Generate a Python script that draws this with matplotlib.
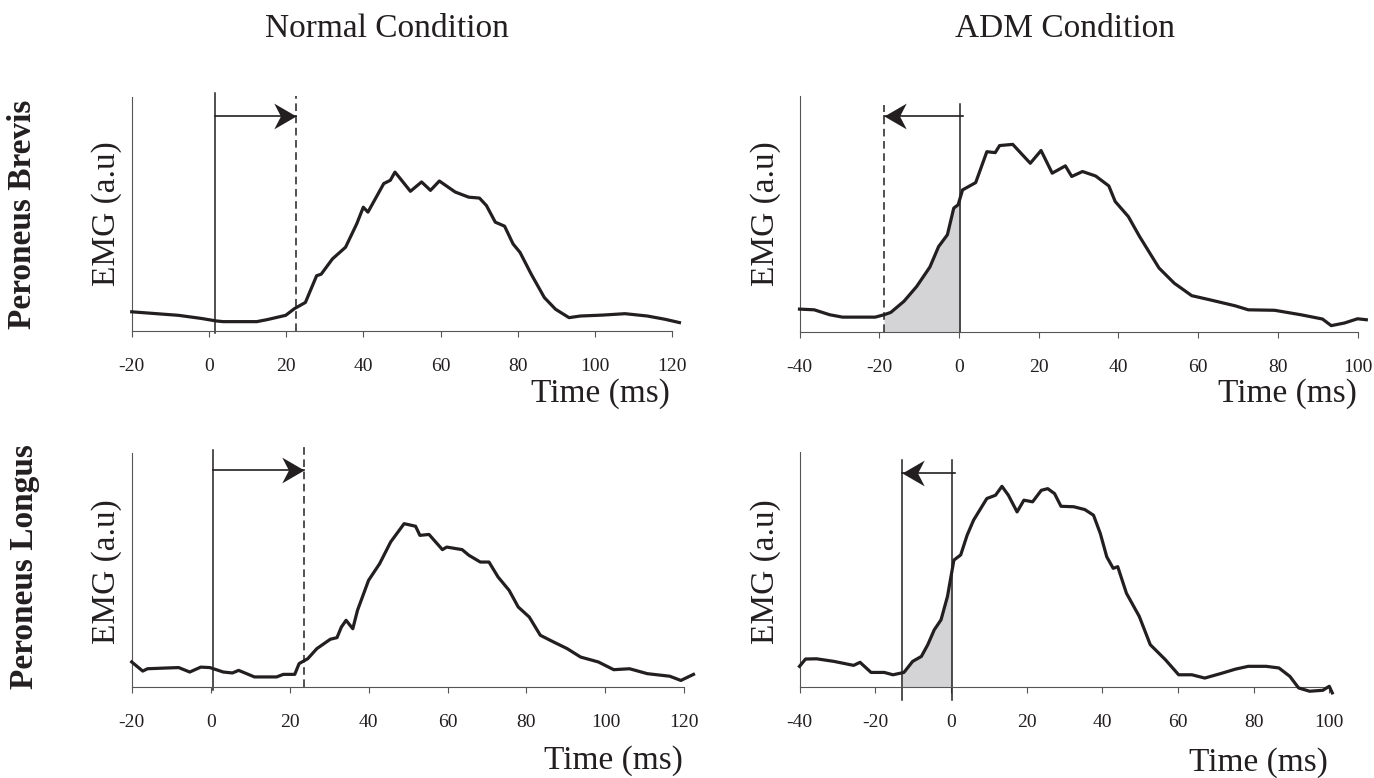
import numpy as np
import matplotlib.pyplot as plt
from matplotlib.path import Path

W, H = 1374, 778
plt.rcParams['font.family'] = ['Liberation Serif', 'DejaVu Serif']
ink = '#231f20'

col_titles = ['Normal Condition', 'ADM Condition']
row_titles = ['Peroneus Brevis', 'Peroneus Longus']
normal_ticks = [-20, 0, 20, 40, 60, 80, 100, 120]
adm_ticks = [-40, -20, 0, 20, 40, 60, 80, 100]

# Peroneus brevis, normal condition
pb_norm_t = [-20, -7.9, -2.1, 1.9, 3.7, 12.4, 15.2, 19.9, 22.2, 25, 27.9, 29.1, 32, 35.4,
             38.3, 40, 41.2, 45.3, 47, 48.2, 49.3, 52.2, 55.1, 57.4, 59.7, 63.8, 67.3,
             70.1, 71.9, 74.2, 76.6, 78.8, 80.6, 83.5, 86.9, 89.8, 93.3, 96.2, 102,
             107.8, 113.6, 118.2, 121.9]
pb_norm_emg = [8.2, 6.7, 5.4, 4.3, 4.0, 4.0, 4.9, 6.7, 9.6, 12.2, 23.6, 24.3, 30.8, 35.8,
               45.8, 52.9, 50.8, 63.0, 64.4, 67.9, 65.7, 59.7, 63.7, 60.1, 64.1, 59.4, 57.2,
               56.8, 53.6, 46.5, 44.8, 37.2, 33.6, 24.3, 14.3, 9.3, 5.7, 6.4, 6.8,
               7.4, 6.4, 5.0, 3.6]

# Peroneus brevis, ADM condition
pb_adm_t = [-40, -36.3, -32.4, -29.2, -25.9, -21, -18.8, -17.1, -13.8, -10.6, -7.3, -5.1,
            -2.9, -1.3, -0.2, 0.9, 4.2, 7, 9.1, 10.2, 13.5, 15.2, 17.9, 20.6, 23.4, 26.7,
            28.3, 31, 34.3, 37.6, 39.2, 42.5, 45.3, 50.2, 54, 58.4, 62.8, 69.3, 72.6,
            79.2, 85.8, 91.2, 93.4, 96.7, 100, 102.2]
pb_adm_emg = [9.7, 9.4, 7.3, 6.3, 6.3, 6.3, 7.3, 8.3, 13.0, 19.3, 27.5, 36.2,
              41.2, 52.5, 53.9, 60.2, 63.3, 76.4, 76.0, 79.0, 79.5, 76.4, 71.5, 76.9, 67.3, 70.4,
              65.9, 68.0, 66.1, 61.9, 55.3, 48.9, 40.5, 27.1, 20.7, 15.4, 13.7, 11.1, 9.4,
              9.2, 7.3, 5.5, 2.7, 3.8, 5.6, 5.2]

# Peroneus longus, normal condition
pl_norm_t = [-20, -17.2, -16, -11.5, -8.1, -5.3, -2.5, -0.2, 3.2, 5.5, 7.1, 11.1, 16.7,
             18.4, 21.3, 22.4, 24.6, 26.9, 30.3, 32, 33.1, 34.3, 36, 37.2, 40, 42.8, 45.6,
             49, 51.9, 53, 55.3, 58.7, 59.8, 63.7, 65.4, 68.3, 70.5, 72.8, 75.6, 77.9,
             80.7, 83.5, 86.9, 90.3, 93.7, 98.2, 102.1, 106.1, 110.6, 116.3, 119.1, 122.3]
pl_norm_emg = [10.7, 6.8, 7.8, 8.1, 8.3, 6.4, 8.5, 8.3, 6.4, 6.0, 7.1, 4.3, 4.3,
               5.4, 5.4, 10.0, 12.1, 16.4, 20.4, 21.1, 25.6, 28.5, 24.9, 32.8, 45.6, 52.7, 62.0,
               69.8, 68.7, 64.8, 65.2, 58.7, 59.8, 58.7, 56.3, 53.4, 53.4, 47.0, 41.3, 34.2,
               29.9, 22.1, 19.2, 16.4, 12.8, 10.7, 7.4, 7.8, 5.7, 4.6, 2.8, 5.4]

# Peroneus longus, ADM condition
pl_adm_t = [-40, -38.4, -35.5, -30.9, -25.7, -24, -21.1, -17.6, -15.3, -12.4, -10.1, -7.8,
            -6.1, -4.4, -2.6, -0.9, 0.8, 2.6, 4.3, 6, 9.5, 11.8, 13.5, 15.2, 17.5, 19.3,
            21.6, 23.9, 25.6, 27.4, 29.1, 32.5, 35.4, 37.7, 39.5, 41.2, 42.9, 44.1, 46.4,
            49.8, 52.7, 56.7, 60.2, 63.7, 67.1, 71.7, 75.2, 78.6, 83.3, 86.7, 89.6, 91.9,
            94.8, 98.3, 100, 100.8]
pl_adm_emg = [8.8, 11.9, 12.0, 10.9, 9.2, 10.5, 6.2, 6.2, 5.2, 6.2, 10.9, 13.0,
              18.0, 24.3, 28.6, 38.5, 54.0, 56.2, 64.6, 71.0, 80.2, 81.6, 85.4, 81.6, 74.5, 79.5,
              78.8, 83.7, 84.4, 82.3, 76.9, 76.7, 75.5, 73.1, 65.3, 55.4, 50.5, 51.2, 39.9,
              30.0, 18.0, 11.6, 5.2, 5.2, 3.8, 5.9, 7.6, 8.8, 8.8, 8.1, 4.5, -0.4,
              -1.8, -1.4, 0.3, -2.5]

# onset markers: (solid line time, second line time, second line dashed?)
pb_norm_marks = (1.7, 22.5, True)
pb_adm_marks = (0.3, -18.8, True)
pl_norm_marks = (0.5, 23.6, True)
pl_adm_marks = (0.22, -12.8, False)

# stealth arrow head, tip at origin
head_r = Path([(0, 0), (-1, 0.58), (-0.7, 0), (-1, -0.58), (0, 0)],
              [Path.MOVETO, Path.LINETO, Path.LINETO, Path.LINETO, Path.CLOSEPOLY])
head_l = Path([(0, 0), (1, 0.58), (0.7, 0), (1, -0.58), (0, 0)],
              [Path.MOVETO, Path.LINETO, Path.LINETO, Path.LINETO, Path.CLOSEPOLY])


def px_axes(left, right, top, bottom):
    return fig.add_axes([left / W, 1 - bottom / H, (right - left) / W, (bottom - top) / H])


def panel(ax, t, emg, ticks, xmax, marks, solid_span, other_span, arrow_y, shade):
    t = np.array(t)
    emg = np.array(emg)
    solid, other, dashed = marks
    ax.set_xlim(ticks[0], xmax)
    ax.set_ylim(0, 100)
    for s in ['top', 'right']:
        ax.spines[s].set_visible(False)
    for s in ['left', 'bottom']:
        ax.spines[s].set_color('#555555')
        ax.spines[s].set_linewidth(0.8)
    ax.spines['bottom'].set_bounds(ticks[0], ticks[-1])
    ax.set_yticks([])
    ax.set_xticks(ticks)
    ax.set_xticklabels([str(v) for v in ticks])
    ax.tick_params(axis='x', direction='out', length=4.3, width=0.8, color='#555555',
                   labelsize=14, pad=15, labelcolor=ink)
    if shade:
        lo, hi = min(solid, other), max(solid, other)
        m = (t > lo) & (t < hi)
        xs = np.concatenate([[lo], t[m], [hi]])
        ys = np.concatenate([[np.interp(lo, t, emg)], emg[m], [np.interp(hi, t, emg)]])
        ax.fill_between(xs, ys, 0, color='#d4d4d6', lw=0, zorder=1)
    ax.plot([solid, solid], solid_span, color=ink, lw=1.1, clip_on=False, zorder=2)
    ax.plot([other, other], other_span, color=ink, lw=1.1, clip_on=False, zorder=2,
            linestyle=(0, (5, 3)) if dashed else '-')
    tail = solid + (0.8 if other < solid else 0)
    ax.plot([tail, other], [arrow_y, arrow_y], color=ink, lw=1.2, clip_on=False, zorder=2)
    ax.plot([other], [arrow_y], marker=head_r if other > solid else head_l,
            markersize=32, color=ink, markeredgewidth=0, clip_on=False, zorder=4)
    ax.plot(t, emg, color=ink, lw=2.3, clip_on=False, zorder=3,
            solid_joinstyle='round')


fig = plt.figure(figsize=(W / 100, H / 100), dpi=100)

ax1 = px_axes(131.7, 131.7 + 143 * 3.86, 97, 331)
panel(ax1, pb_norm_t, pb_norm_emg, normal_ticks, 123, pb_norm_marks,
      (-0.7, 101.9), (0, 100.4), 91.7, False)

ax2 = px_axes(799.5, 799.5 + 143 * 3.986, 96, 332)
panel(ax2, pb_adm_t, pb_adm_emg, adm_ticks, 103, pb_adm_marks,
      (0, 96.6), (0, 96.2), 91.5, True)

ax3 = px_axes(131.7, 131.7 + 143 * 3.948, 453, 687)
panel(ax3, pl_norm_t, pl_norm_emg, normal_ticks, 123, pl_norm_marks,
      (-1.1, 101.4), (0, 103.6), 92.6, False)

ax4 = px_axes(799.5, 799.5 + 142 * 3.784, 452, 687)
panel(ax4, pl_adm_t, pl_adm_emg, adm_ticks, 102, pl_adm_marks,
      (-5.4, 96.5), (-5.4, 96.5), 91.1, True)

# column titles
fig.text(387 / W, 1 - 37 / H, col_titles[0], fontsize=24, color=ink, ha='center', va='baseline')
fig.text(1065 / W, 1 - 37 / H, col_titles[1], fontsize=24, color=ink, ha='center', va='baseline')

# row titles
fig.text(23 / W, 1 - 214 / H, row_titles[0], fontsize=24, fontweight='bold', color=ink,
         rotation=90, ha='center', va='center')
fig.text(25 / W, 1 - 567 / H, row_titles[1], fontsize=24, fontweight='bold', color=ink,
         rotation=90, ha='center', va='center')

# y labels
for x, y in [(107, 214), (766, 214), (107, 572), (766, 572)]:
    fig.text(x / W, 1 - y / H, 'EMG (a.u)', fontsize=24, color=ink, rotation=90,
             ha='center', va='center')

# x labels
for x, y in [(670, 402), (1357, 402), (683, 769), (1328, 771)]:
    fig.text(x / W, 1 - y / H, 'Time (ms)', fontsize=24, color=ink, ha='right', va='baseline')

fig.savefig('out.png', dpi=100)
